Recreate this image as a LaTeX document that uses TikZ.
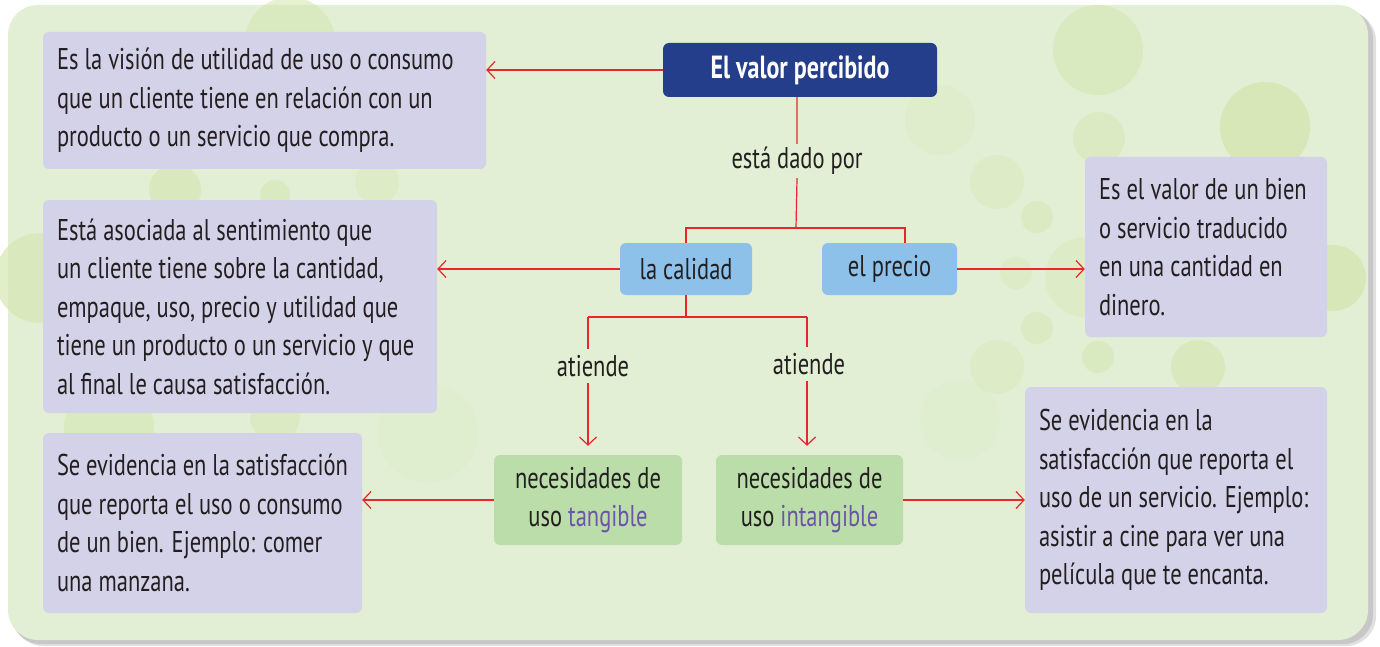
\documentclass[tikz,border=0pt]{standalone}
\usepackage{fontspec}
\setmainfont{PT Sans}[FakeStretch=0.75]
\usetikzlibrary{arrows.meta}
\definecolor{fondo}{HTML}{E2EFD4}
\definecolor{burbuja}{HTML}{D6E7B4}
\definecolor{lila}{HTML}{D4D2E8}
\definecolor{celeste}{HTML}{8DC1EA}
\definecolor{verde}{HTML}{BBDDAA}
\definecolor{azul}{HTML}{253E8C}
\definecolor{rojo}{HTML}{E8262B}
\definecolor{tinta}{HTML}{231F20}
\definecolor{morado}{HTML}{6C55A8}
\tikzset{
	texto/.style = {font=\fontsize{30}{38.5}\selectfont, text=tinta},
	caja/.style = {texto, rounded corners = 6pt, inner xsep = 14pt, inner ysep = 0pt, align = flush left},
	desc/.style = {caja, fill = lila},
	concepto/.style = {caja, fill = celeste, align = flush center},
	necesidad/.style = {caja, fill = verde, align = flush center},
	etiqueta/.style = {texto, inner sep = 0pt, minimum height = 34pt},
	linea/.style = {draw = rojo, line width = 1.2pt},
	flecha/.style = {linea, -{Straight Barb[length = 8pt, width = 17pt, line width = 1.2pt]}}
}
\begin{document}
\begin{tikzpicture}[x = 1pt, y = -1pt]
		\useasboundingbox (0,0) rectangle (1380,647);
		\fill[black!12, rounded corners = 30pt] (13,11) rectangle (1376,646);
		\fill[black!22, rounded corners = 30pt] (11,9) rectangle (1373,644);
		\fill[fondo, rounded corners = 30pt] (8,5) rectangle (1368,640);
		\begin{scope}[fill = burbuja]
			\fill[opacity = 0.6] (290,42) circle (45);
			\fill[opacity = 0.7] (175,190) circle (26);
			\fill[opacity = 0.6] (275,195) circle (15);
			\fill[opacity = 0.4] (377,182) circle (22);
			\fill[opacity = 0.7] (40,278) circle (45);
			\fill[opacity = 0.6] (109,427) circle (45);
			\fill[opacity = 0.5] (275,417) circle (25);
			\fill[opacity = 0.12] (428,433) circle (50);
			\fill[opacity = 0.6] (1098,50) circle (45);
			\fill[opacity = 0.9] (1265,127) circle (45);
			\fill[opacity = 0.5] (1099,138) circle (26);
			\fill[opacity = 0.4] (997,182) circle (27);
			\fill[opacity = 0.5] (1037,217) circle (16);
			\fill[opacity = 0.4] (1016,273) circle (16);
			\fill[opacity = 0.4] (1085,277) circle (40);
			\fill[opacity = 0.9] (1333,278) circle (33);
			\fill[opacity = 0.5] (1037,328) circle (16);
			\fill[opacity = 0.4] (997,367) circle (27);
			\fill[opacity = 0.6] (1098,357) circle (16);
			\fill[opacity = 0.7] (1198,367) circle (27);
			\fill[opacity = 0.2] (940,120) circle (35);
			\fill[opacity = 0.12] (960,420) circle (40);
		\end{scope}

		\node[caja, fill = azul, text = white, font = \fontsize{32}{38.5}\selectfont\bfseries, minimum width = 274pt, minimum height = 54pt, align = center] at (800,70) (titulo) {El valor percibido};
		\node[desc, text width = 415pt, minimum height = 137pt] at (264.5,100.5) (defvalor) {Es la visión de utilidad de uso o consumo\\que un cliente tiene en relación con un\\producto o un servicio que compra.};
		\node[etiqueta] at (797,161) (dado) {está dado por};
		\node[concepto, minimum width = 132pt, minimum height = 52pt] at (686,269) (calidad) {la calidad};
		\node[concepto, minimum width = 135pt, minimum height = 52pt] at (889.5,269) (precio) {el precio};
		\node[desc, text width = 366pt, minimum height = 213pt] at (240,306.5) (defcalidad) {Está asociada al sentimiento que\\un cliente tiene sobre la cantidad,\\empaque, uso, precio y utilidad que\\tiene un producto o un servicio y que\\al final le causa satisfacción.};
		\node[desc, text width = 214pt, minimum height = 180pt] at (1206,247) (defprecio) {Es el valor de un bien\\o servicio traducido\\en una cantidad en\\dinero.};
		\node[etiqueta] at (593,366) (atiende1) {atiende};
		\node[etiqueta] at (809,364) (atiende2) {atiende};
		\node[necesidad, minimum width = 188pt, minimum height = 90pt] at (588,500) (tangible) {necesidades de\\uso \textcolor{morado}{tangible}};
		\node[necesidad, minimum width = 187pt, minimum height = 90pt] at (809.5,500) (intangible) {necesidades de\\uso \textcolor{morado}{intangible}};
		\node[desc, text width = 291pt, minimum height = 180pt] at (202.5,523) (deftangible) {Se evidencia en la satisfacción\\que reporta el uso o consumo\\de un bien. Ejemplo: comer\\una manzana.};
		\node[desc, text width = 274pt, minimum height = 226pt] at (1176,500) (defintangible) {Se evidencia en la\\satisfacción que reporta el\\uso de un servicio. Ejemplo:\\asistir a cine para ver una\\película que te encanta.};

		\coordinate (j1) at (796,228);
		\coordinate (j2) at (905,228);
		\coordinate (j3) at (686,317);
		\coordinate (j4) at (588,317);
		\coordinate (j5) at (807,317);
		\path[flecha] (titulo.west) -- (titulo.west -| defvalor.east);
		\path[linea] (titulo.south -| dado) -- (dado.north) (dado.south) -- (j1);
		\path[linea] (calidad.north) |- (j1) -- (j2) -- (j2 |- precio.north);
		\path[flecha] (calidad.west) -- (calidad.west -| defcalidad.east);
		\path[flecha] (precio.east) -- (precio.east -| defprecio.west);
		\path[linea] (calidad.south) -- (j3) (j4) -- (j5);
		\path[linea] (j4) -- (j4 |- atiende1.north) (j5) -- (j5 |- atiende2.north);
		\path[flecha] (atiende1.south -| j4) -- ([yshift = 9pt] tangible.north -| j4);
		\path[flecha] (atiende2.south -| j5) -- ([yshift = 9pt] intangible.north -| j5);
		\path[flecha] (tangible.west) -- (tangible.west -| deftangible.east);
		\path[flecha] (intangible.east) -- (intangible.east -| defintangible.west);
	\end{tikzpicture}
\end{document}
